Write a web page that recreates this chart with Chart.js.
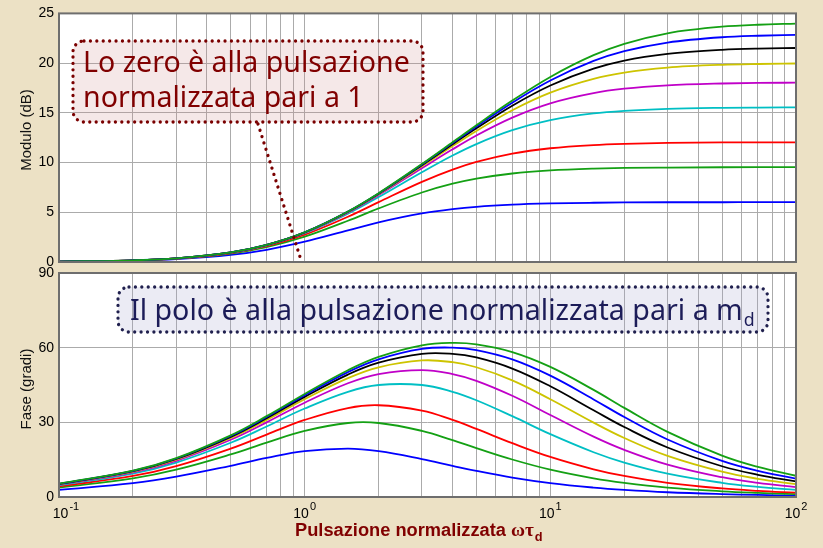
<!DOCTYPE html>
<html><head><meta charset="utf-8">
<script src="https://cdn.jsdelivr.net/npm/chart.js@4.4.0/dist/chart.umd.min.js"></script>
<style>
html,body{margin:0;padding:0;background:#ECE1C5;}
#wrap{position:relative;width:823px;height:548px;overflow:hidden;background:#ECE1C5;}
canvas{position:absolute;left:0;top:0;}
</style></head><body>
<div id="wrap"><canvas id="cPhase" width="823" height="548"></canvas><canvas id="cMag" width="823" height="548"></canvas></div>
<script>
// normalized pulsation (omega * tau_d)
const omega = [0.1,0.2,0.3,0.5,0.7,1,1.5,2,3,4,5,7,10,15,20,30,50,70,100];
const mdValues = [2,3,4,6,8,10,12,14,16];

// magnitude (dB)
const magM2  = [0.03,0.13,0.28,0.71,1.23,2.04,3.18,3.98,4.88,5.31,5.55,5.77,5.89,5.96,5.99,6.01,6.01,6.02,6.02];
const magM3  = [0.04,0.15,0.33,0.85,1.50,2.55,4.15,5.39,6.99,7.87,8.38,8.90,9.21,9.39,9.46,9.50,9.53,9.54,9.54];
const magM4  = [0.04,0.16,0.35,0.90,1.60,2.75,4.55,6.02,8.06,9.29,10.06,10.90,11.44,11.76,11.88,11.97,12.02,12.03,12.03];
const magM6  = [0.04,0.17,0.36,0.94,1.67,2.89,4.86,6.53,9.03,10.71,11.86,13.26,14.27,14.94,15.20,15.40,15.50,15.53,15.55];
const magM8  = [0.04,0.17,0.37,0.95,1.70,2.94,4.97,6.73,9.43,11.33,12.72,14.52,15.96,16.99,17.43,17.77,17.95,18.01,18.03];
const magM10 = [0.04,0.17,0.37,0.96,1.71,2.97,5.02,6.82,9.63,11.66,13.18,15.26,17.03,18.42,19.04,19.55,19.83,19.91,19.96];
const magM12 = [0.04,0.17,0.37,0.96,1.72,2.98,5.05,6.87,9.74,11.85,13.45,15.72,17.75,19.45,20.26,20.94,21.34,21.46,21.52];
const magM14 = [0.04,0.17,0.37,0.96,1.72,2.99,5.07,6.90,9.81,11.96,13.63,16.02,18.25,20.22,21.20,22.07,22.60,22.75,22.84];
const magM16 = [0.04,0.17,0.37,0.96,1.72,2.99,5.08,6.92,9.85,12.04,13.75,16.23,18.61,20.80,21.94,23.00,23.66,23.86,23.97];

// phase (degrees)
const phM2  = [2.85,5.60,8.17,12.53,15.70,18.43,19.44,18.43,15.26,12.53,10.49,7.82,5.60,3.78,2.85,1.91,1.15,0.82,0.57];
const phM3  = [3.80,7.50,10.99,17.10,21.86,26.57,29.74,29.74,26.57,22.83,19.65,15.07,10.99,7.50,5.67,3.80,2.29,1.64,1.15];
const phM4  = [4.28,8.45,12.41,19.44,25.07,30.96,35.75,36.87,34.70,30.96,27.35,21.62,16.09,11.12,8.45,5.69,3.43,2.45,1.72];
const phM6  = [4.76,9.40,13.84,21.80,28.34,35.54,42.27,45.00,45.00,42.27,38.88,32.47,25.25,17.99,13.84,9.40,5.70,4.08,2.86];
const phM8  = [5.00,9.88,14.55,22.99,29.99,37.88,45.69,49.40,51.01,49.40,46.69,40.68,32.95,24.26,18.94,13.02,7.94,5.70,4.00];
const phM10 = [5.14,10.16,14.98,23.70,30.99,39.29,47.78,52.13,54.87,54.16,52.13,46.88,39.29,29.88,23.70,16.53,10.16,7.31,5.14];
const phM12 = [5.23,10.36,15.27,24.18,31.65,40.24,49.19,53.97,57.53,57.53,56.07,51.61,44.48,34.85,28.10,19.89,12.35,8.91,6.27];
const phM14 = [5.30,10.49,15.47,24.52,32.13,40.91,50.19,55.30,59.47,60.02,59.04,55.30,48.75,39.21,32.13,23.11,14.50,10.49,7.40];
const phM16 = [5.35,10.59,15.63,24.78,32.49,41.42,50.95,56.31,60.95,61.93,61.34,58.24,52.28,43.03,35.80,26.16,16.60,12.06,8.52];

// axis ticks
const xGridTicks = [0.1,0.2,0.3,0.4,0.5,0.6,0.7,0.8,0.9,1,2,3,4,5,6,7,8,9,10,20,30,40,50,60,70,80,90,100];
const xMajorTicks = [0.1,1,10,100];
const xMajorExp = ['-1','0','1','2'];
const magTickMin = 0, magTickMax = 25, magTickStep = 5;
const phTickMin = 0, phTickMax = 90, phTickStep = 30;

// texts
const magLabel = 'Modulo (dB)';
const phLabel = 'Fase (gradi)';
const xTitleMain = 'Pulsazione normalizzata ';
const xTitleSym = 'ωτ';
const xTitleSub = 'd';
const zeroNote = ['Lo zero è alla pulsazione', 'normalizzata pari a 1'];
const poleNote = 'Il polo è alla pulsazione normalizzata pari a m';
const poleNoteSub = 'd';

const magSeries = [magM2,magM3,magM4,magM6,magM8,magM10,magM12,magM14,magM16];
const phSeries  = [phM2,phM3,phM4,phM6,phM8,phM10,phM12,phM14,phM16];
const colors = ['#0000ff','#14a014','#ff0000','#00bfc4','#c000c8','#cdc400','#000000','#0000ff','#14a014'];

const GRID = '#ababab';
const FRAME = '#6e6e6e';
const SANS = '"Liberation Sans", Arial, sans-serif';
const NOTE_FONT = '"Noto Sans", sans-serif';

function mkData(arr){ return omega.map((w,i)=>({x:w,y:arr[i]})); }

function roundRectPath(ctx,x,y,w,h,r){
  ctx.beginPath();
  ctx.moveTo(x+r,y);
  ctx.lineTo(x+w-r,y); ctx.arcTo(x+w,y,x+w,y+r,r);
  ctx.lineTo(x+w,y+h-r); ctx.arcTo(x+w,y+h,x+w-r,y+h,r);
  ctx.lineTo(x+r,y+h); ctx.arcTo(x,y+h,x,y+h-r,r);
  ctx.lineTo(x,y+r); ctx.arcTo(x,y,x+r,y,r);
  ctx.closePath();
}
function dottedBox(ctx,x,y,w,h,r,fill,stroke){
  ctx.save();
  roundRectPath(ctx,x,y,w,h,r);
  ctx.fillStyle = fill; ctx.fill();
  ctx.setLineDash([0.01,6.4]); ctx.lineCap='round'; ctx.lineWidth=3.3; ctx.strokeStyle=stroke;
  ctx.stroke();
  ctx.restore();
}
function fitSize(ctx,text,weight,family,target){
  ctx.font = weight+' 100px '+family;
  return 100*target/ctx.measureText(text).width;
}
function fillArea(chart){
  const {ctx, chartArea:a} = chart;
  ctx.save(); ctx.fillStyle='#ffffff';
  ctx.fillRect(a.left, a.top, a.right-a.left, a.bottom-a.top);
  ctx.restore();
}
function drawFrame(chart){
  const {ctx, chartArea:a} = chart;
  ctx.save(); ctx.strokeStyle=FRAME; ctx.lineWidth=2;
  ctx.strokeRect(a.left, a.top, a.right-a.left, a.bottom-a.top);
  ctx.restore();
}
function drawYTitle(ctx,text,x,y){
  ctx.save(); ctx.translate(x,y); ctx.rotate(-Math.PI/2);
  ctx.font='15px '+SANS; ctx.fillStyle='#111'; ctx.textAlign='center'; ctx.textBaseline='middle';
  ctx.fillText(text,0,0); ctx.restore();
}

const magDecor = {
  id:'magDecor',
  beforeDraw(chart){ fillArea(chart); },
  afterDatasetsDraw(chart){
    const ctx = chart.ctx;
    drawFrame(chart);
    drawYTitle(ctx, magLabel, 27, 130);
    // pointer to the zero
    const xs = chart.scales.x, ys = chart.scales.y;
    ctx.save();
    ctx.setLineDash([0.01,6.6]); ctx.lineCap='round'; ctx.lineWidth=3.3; ctx.strokeStyle='#7a0000';
    ctx.beginPath(); ctx.moveTo(258,124); ctx.lineTo(xs.getPixelForValue(1)-4, ys.getPixelForValue(0)-3); ctx.stroke();
    ctx.restore();
    dottedBox(ctx,73,41,350,81,11,'rgba(205,140,140,0.2)','#7a0000');
    const s = fitSize(ctx, zeroNote[0], '400', NOTE_FONT, 327);
    ctx.save(); ctx.font = '400 '+s+'px '+NOTE_FONT; ctx.fillStyle='#800000'; ctx.textBaseline='alphabetic';
    ctx.fillText(zeroNote[0], 83, 72); ctx.fillText(zeroNote[1], 83, 107);
    ctx.restore();
  }
};

const phDecor = {
  id:'phDecor',
  beforeDraw(chart){ fillArea(chart); },
  afterDatasetsDraw(chart){
    const ctx = chart.ctx;
    drawFrame(chart);
    drawYTitle(ctx, phLabel, 27, 389);
    dottedBox(ctx,118,287,650,45,11,'rgba(165,165,205,0.22)','#20204e');
    const s = fitSize(ctx, poleNote, '400', NOTE_FONT, 613);
    ctx.save(); ctx.fillStyle='#1c1c58'; ctx.textBaseline='alphabetic';
    ctx.font = '400 '+s+'px '+NOTE_FONT;
    ctx.fillText(poleNote, 130, 320);
    const w = ctx.measureText(poleNote).width;
    ctx.font = '400 '+(s*0.62)+'px '+NOTE_FONT;
    ctx.fillText(poleNoteSub, 130+w+1, 326);
    ctx.restore();
    // x tick labels with exponents
    const xs = chart.scales.x;
    ctx.save(); ctx.fillStyle='#000'; ctx.textBaseline='alphabetic';
    xMajorTicks.forEach((v,i)=>{
      const px = xs.getPixelForValue(v);
      ctx.font='14px '+SANS; const w10 = ctx.measureText('10').width;
      ctx.font='11px '+SANS; const we = ctx.measureText(xMajorExp[i]).width;
      const tot = w10+1+we;
      let x0 = px - tot/2 + (i===0 ? 7 : 0);
      ctx.font='14px '+SANS; ctx.fillText('10', x0, 518);
      ctx.font='11px '+SANS; ctx.fillText(xMajorExp[i], x0+w10+1, 510);
    });
    ctx.restore();
    // x axis title
    ctx.save(); ctx.fillStyle='#800000'; ctx.textBaseline='alphabetic';
    const ts = fitSize(ctx, xTitleMain.trim(), 'bold', SANS, 211);
    ctx.font='bold '+ts+'px '+SANS; const wm = ctx.measureText(xTitleMain).width;
    ctx.font='bold '+(ts*1.05)+'px "Liberation Serif", serif'; const wsym = ctx.measureText(xTitleSym).width;
    let x0 = 295;
    ctx.font='bold '+ts+'px '+SANS; ctx.fillText(xTitleMain, x0, 536);
    ctx.font='bold '+(ts*1.05)+'px "Liberation Serif", serif'; ctx.fillText(xTitleSym, x0+wm, 536);
    ctx.font='bold '+(ts*0.7)+'px '+SANS; ctx.fillText(xTitleSub, x0+wm+wsym+1, 541);
    ctx.restore();
  }
};

function xAxis(){
  return {
    type:'logarithmic', min:0.1, max:100,
    ticks:{display:false},
    grid:{color:GRID, lineWidth:1, drawTicks:false},
    border:{display:false},
    afterBuildTicks(scale){ scale.ticks = xGridTicks.map(v=>({value:v})); },
    afterFit(scale){ scale.height = 0; }
  };
}
function yAxis(min,max,step){
  return {
    type:'linear', min:min, max:max,
    ticks:{stepSize:step, padding:5, color:'#000', font:{family:SANS, size:14}},
    grid:{color:GRID, lineWidth:1, drawTicks:false},
    border:{display:false},
    afterFit(scale){ scale.width = 59; }
  };
}
function datasets(series, smooth){
  return series.map((arr,i)=>({
    label:'m = '+mdValues[i],
    data:mkData(arr),
    borderColor:colors[i], borderWidth:1.8,
    pointRadius:0, fill:false,
    order: series.length - i,
    tension: smooth ? 0 : 0.4,
    cubicInterpolationMode: smooth ? 'monotone' : 'default'
  }));
}
const common = {
  responsive:false, animation:false, devicePixelRatio:1,
  plugins:{legend:{display:false}, tooltip:{enabled:false}},
  events:[]
};

new Chart(document.getElementById('cMag'), {
  type:'line',
  data:{datasets:datasets(magSeries,true)},
  options:Object.assign({}, common, {
    layout:{padding:{top:9, bottom:286, left:0, right:27}},
    scales:{x:xAxis(), y:yAxis(magTickMin,magTickMax,magTickStep)}
  }),
  plugins:[magDecor]
});
new Chart(document.getElementById('cPhase'), {
  type:'line',
  data:{datasets:datasets(phSeries,false)},
  options:Object.assign({}, common, {
    layout:{padding:{top:273, bottom:51, left:0, right:27}},
    scales:{x:xAxis(), y:yAxis(phTickMin,phTickMax,phTickStep)}
  }),
  plugins:[phDecor]
});
</script>
</body></html>
